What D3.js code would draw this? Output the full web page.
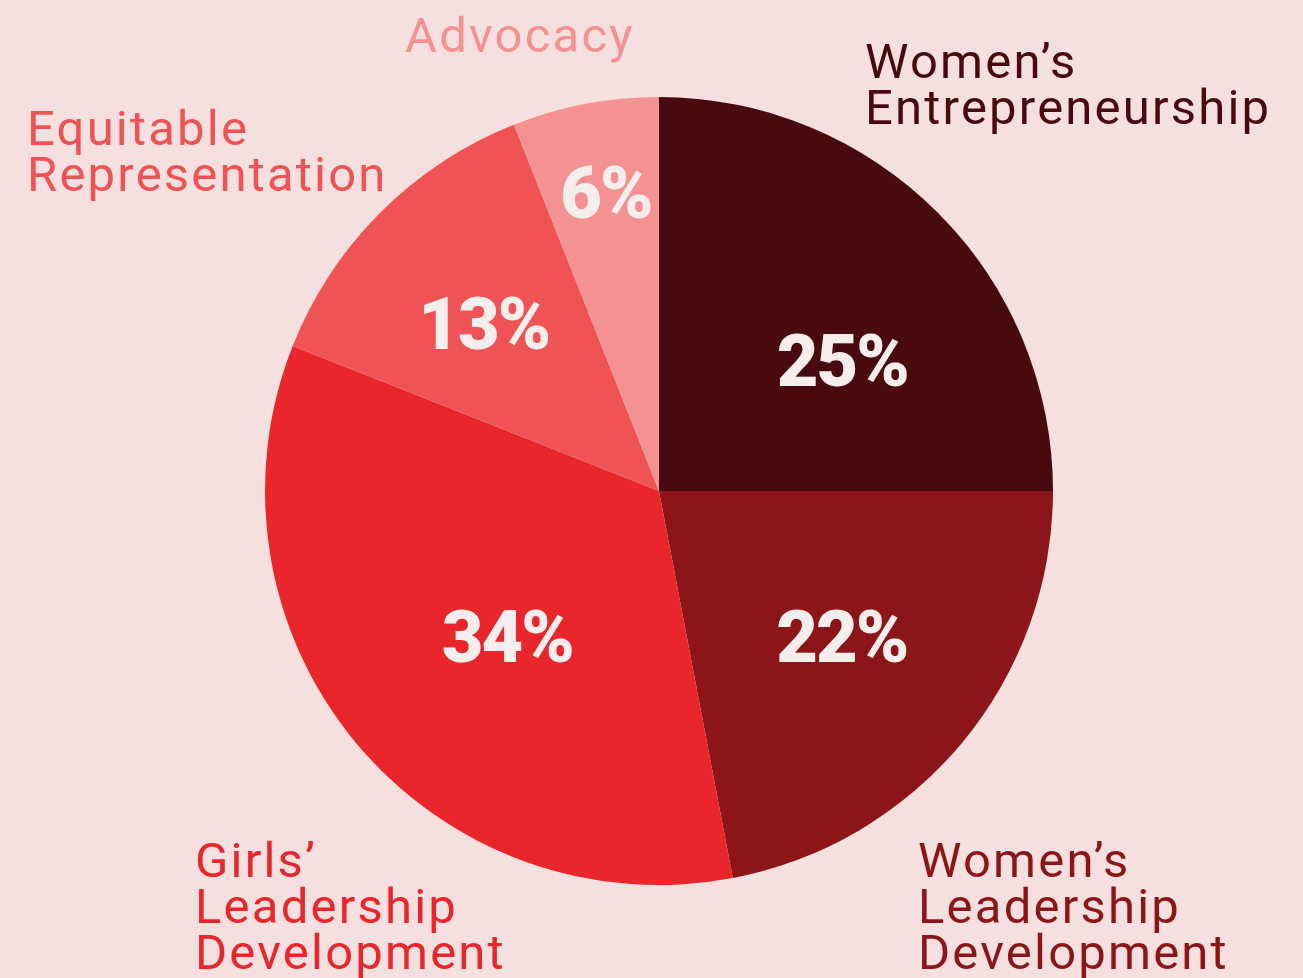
<!DOCTYPE html>
<html>
<head>
<meta charset="utf-8">
<script src="https://cdn.jsdelivr.net/npm/d3@7"></script>
<style>
  html, body { margin: 0; padding: 0; background: #f6e0df; }
  svg { display: block; }
</style>
</head>
<body>
<div id="wrapper"></div>
<script>
const categories = [
  "Women’s Entrepreneurship",
  "Women’s Leadership Development",
  "Girls’ Leadership Development",
  "Equitable Representation",
  "Advocacy"
];
const shares = [25, 22, 34, 13, 6];
const labelLines = [
  ["Women’s", "Entrepreneurship"],
  ["Women’s", "Leadership", "Development"],
  ["Girls’", "Leadership", "Development"],
  ["Equitable", "Representation"],
  ["Advocacy"]
];
const COLORS = ["#480a0f", "#8c1519", "#e8262c", "#ef5356", "#f39193"];

// where the category names sit (left edge, first baseline)
const nameAnchors = [
  { x: 865, y: 78 },
  { x: 918, y: 877 },
  { x: 195, y: 877 },
  { x: 27, y: 145 },
  { x: 405, y: 52 }
];
// offsets of the percentage labels from each slice centroid
const pctNudge = [
  { dx: 44, dy: 10 },
  { dx: 31, dy: 21 },
  { dx: 0, dy: 21 },
  { dx: -36, dy: -27 },
  { dx: -3, dy: -34 }
];

const width = 1303;
const height = 978;
const cx = 659, cy = 491, radius = 394;

const svg = d3.select("#wrapper")
  .append("svg")
  .attr("width", width)
  .attr("height", height);

svg.append("rect")
  .attr("width", width)
  .attr("height", height)
  .attr("fill", "#f6e0df");

const data = categories.map((c, i) => ({ name: c, value: shares[i], idx: i }));

const pie = d3.pie()
  .value(d => d.value)
  .sort(null);

const arcs = pie(data);

const arc = d3.arc()
  .innerRadius(0)
  .outerRadius(radius);

const bounds = svg.append("g")
  .attr("transform", `translate(${cx},${cy})`);

bounds.selectAll("path")
  .data(arcs)
  .enter().append("path")
  .attr("d", arc)
  .attr("fill", d => COLORS[d.data.idx]);

// percentage labels, placed on a centroid arc that differs by slice size
const pctArc = d3.arc()
  .innerRadius(d => d.data.value < 10 ? radius * 0.62 : radius * 0.5)
  .outerRadius(d => d.data.value < 10 ? radius * 0.74 : radius * 0.5);

bounds.selectAll("text.pct")
  .data(arcs)
  .enter().append("text")
  .attr("class", "pct")
  .attr("x", d => pctArc.centroid(d)[0] + pctNudge[d.data.idx].dx)
  .attr("y", d => pctArc.centroid(d)[1] + pctNudge[d.data.idx].dy)
  .attr("text-anchor", "middle")
  .attr("dominant-baseline", "central")
  .attr("fill", "#f6eeec")
  .style("font-family", "Roboto, sans-serif")
  .style("font-weight", 900)
  .style("font-size", "72px")
  .style("letter-spacing", "-2px")
  .text(d => d.data.value + "%");

// category names
const names = svg.selectAll("text.name")
  .data(data)
  .enter().append("text")
  .attr("class", "name")
  .attr("x", d => nameAnchors[d.idx].x)
  .attr("y", d => nameAnchors[d.idx].y)
  .attr("fill", d => COLORS[d.idx])
  .style("font-family", "Roboto, sans-serif")
  .style("font-size", "49px")
  .style("letter-spacing", "2.2px");

names.selectAll("tspan")
  .data(d => labelLines[d.idx].map(t => ({ t, x: nameAnchors[d.idx].x })))
  .enter().append("tspan")
  .attr("x", d => d.x)
  .attr("dy", (d, i) => i === 0 ? 0 : 46)
  .text(d => d.t);
</script>
</body>
</html>
